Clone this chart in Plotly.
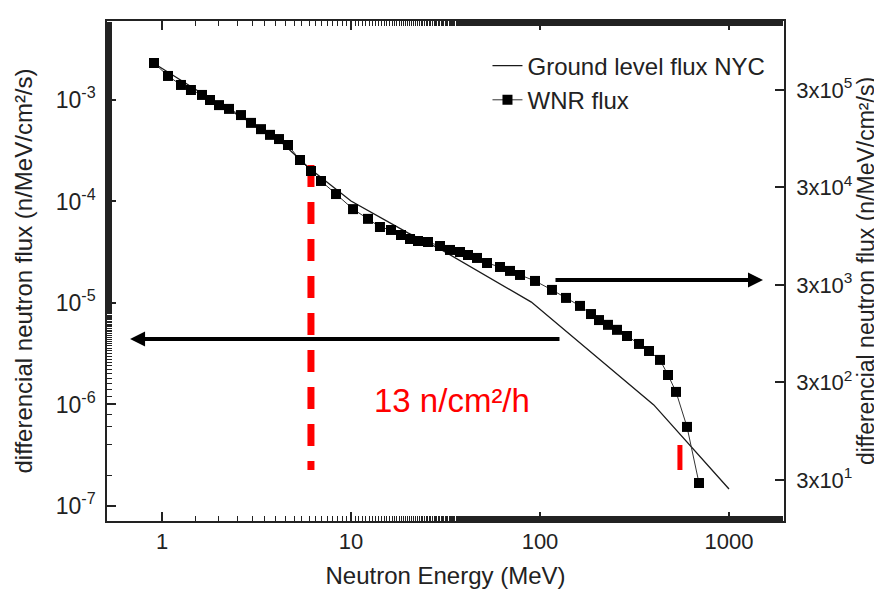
import plotly.graph_objects as go

# ---------------- data ----------------
nyc_energy_mev = [0.9, 2, 4, 6, 10, 20, 30, 90, 400, 1000]
nyc_flux = [2.31e-3, 9.14e-4, 4.31e-4, 2.14e-4, 1.01e-4, 4.90e-5, 3.35e-5, 1.02e-5, 9.9e-7, 1.47e-7]

wnr_energy_mev = [0.907, 1.076, 1.26, 1.423, 1.628, 1.795, 2.003, 2.262, 2.618, 2.958,
                  3.341, 3.728, 4.159, 4.642, 5.373, 6.143, 6.938, 8.33, 10.25, 12.3,
                  14.23, 16.28, 18.39, 20.52, 22.62, 25.55, 29.58, 33.41, 37.74, 41.59,
                  46.42, 52.44, 61.43, 69.38, 78.38, 94.08, 115.7, 137.3, 162.8, 186.1,
                  205.2, 228.9, 255.5, 288.6, 334.1, 377.4, 431.4, 475.6, 524.4, 599.5,
                  693.8]
wnr_flux = [5.68e5, 4.18e5, 3.38e5, 3.00e5, 2.67e5, 2.37e5, 2.10e5, 1.92e5, 1.66e5, 1.38e5,
            1.19e5, 1.04e5, 9.42e4, 8.18e4, 5.74e4, 4.43e4, 3.50e4, 2.57e4, 1.80e4, 1.43e4,
            1.18e4, 1.10e4, 9.77e3, 8.89e3, 8.48e3, 8.28e3, 7.53e3, 6.86e3, 6.54e3, 6.09e3,
            5.68e3, 5.04e3, 4.59e3, 4.18e3, 3.80e3, 3.30e3, 2.67e3, 2.21e3, 1.83e3, 1.51e3,
            1.31e3, 1.17e3, 1.04e3, 8.99e2, 7.45e2, 6.31e2, 5.11e2, 3.58e2, 2.40e2, 1.05e2,
            2.79e1]

# integration limits (red markers)
cut_low_energy = [6.14, 6.14]
cut_low_flux = [2.29e-4, 2.26e-7]
cut_high_energy = [550, 550]
cut_high_flux = [3.99e-7, 2.26e-7]

left_tick_vals = [1e-7, 1e-6, 1e-5, 1e-4, 1e-3]
left_tick_text = ["10<sup>-7</sup>", "10<sup>-6</sup>", "10<sup>-5</sup>", "10<sup>-4</sup>", "10<sup>-3</sup>"]
right_tick_vals = [3e1, 3e2, 3e3, 3e4, 3e5]
right_tick_text = ["3x10<sup>1</sup>", "3x10<sup>2</sup>", "3x10<sup>3</sup>", "3x10<sup>4</sup>", "3x10<sup>5</sup>"]
x_tick_vals = [1, 10, 100, 1000]
x_tick_text = ["1", "10", "100", "1000"]

right_minor_vals = [3 * 10 ** (n - 1) * k for n in range(0, 7) for k in range(2, 10)]

FONT = "Liberation Sans, Arial, sans-serif"
INK = "#222222"

fig = go.Figure()

fig.add_trace(go.Scatter(
    x=nyc_energy_mev, y=nyc_flux, mode="lines", name="Ground level flux NYC",
    line=dict(color="#1a1a1a", width=1.3), xaxis="x", yaxis="y"))

fig.add_trace(go.Scatter(
    x=wnr_energy_mev, y=wnr_flux, mode="lines+markers", name="WNR flux",
    line=dict(color="#333333", width=1),
    marker=dict(symbol="square", size=10, color="black"),
    xaxis="x", yaxis="y2"))

fig.add_trace(go.Scatter(
    x=cut_low_energy, y=cut_low_flux, mode="lines", showlegend=False,
    line=dict(color="#ff0000", width=7, dash="22px,15px"), xaxis="x", yaxis="y"))
fig.add_trace(go.Scatter(
    x=cut_high_energy, y=cut_high_flux, mode="lines", showlegend=False,
    line=dict(color="#ff0000", width=5), xaxis="x", yaxis="y"))

axis_common = dict(type="log", showgrid=False, zeroline=False, ticks="inside", automargin=False,
                   tickcolor=INK, linecolor=INK, linewidth=1.5)

fig.update_layout(
    width=882, height=591,
    margin=dict(l=99, r=106, t=13, b=78),
    paper_bgcolor="white", plot_bgcolor="white",
    font=dict(family=FONT, color=INK),
    showlegend=True,
    legend=dict(x=0.562, y=0.955, xanchor="left", yanchor="top",
                bgcolor="rgba(0,0,0,0)", font=dict(family=FONT, size=24, color=INK),
                tracegroupgap=0),
    xaxis=dict(**axis_common, range=[-0.291, 3.291], tickvals=x_tick_vals, ticktext=x_tick_text,
               ticklen=9, tickwidth=1.5, showline=True, mirror="ticks",
               tickfont=dict(family=FONT, size=22, color=INK),
               minor=dict(ticks="inside", ticklen=5, tickcolor=INK, tickwidth=1.2, showgrid=False),
               title=dict(text="Neutron Energy (MeV)", font=dict(family=FONT, size=24, color=INK), standoff=14)),
    yaxis=dict(**axis_common, range=[-7.148, -2.222], tickvals=left_tick_vals, ticktext=left_tick_text,
               ticklen=9, tickwidth=1.5, showline=True, ticklabelstandoff=5,
               tickfont=dict(family=FONT, size=23, color=INK),
               minor=dict(ticks="inside", ticklen=5, tickcolor=INK, tickwidth=1.2, showgrid=False),
               title=dict(text="differencial neutron flux (n/MeV/cm²/s)", font=dict(family=FONT, size=24, color=INK), standoff=16)),
    yaxis2=dict(**axis_common, range=[1.056, 6.185], tickvals=right_tick_vals, ticktext=right_tick_text,
                ticklen=9, tickwidth=1.5, showline=True, overlaying="y", side="right", anchor="x",
                ticklabelstandoff=6, tickfont=dict(family=FONT, size=22, color=INK),
                title=dict(text="differencial neutron flux (n/MeV/cm²/s)", font=dict(family=FONT, size=23, color=INK), standoff=0)),
    yaxis3=dict(type="log", range=[1.056, 6.185], overlaying="y", side="right", anchor="x", automargin=False,
                tickvals=right_minor_vals, ticks="inside", ticklen=5, tickwidth=1.2, tickcolor=INK,
                showticklabels=False, showgrid=False, zeroline=False, showline=False),
)

# arrows indicating which axis belongs to which curve
fig.add_annotation(x=-0.169, y=-5.355, ax=2.111, ay=-5.355, xref="x", yref="y", axref="x", ayref="y",
                   text="", showarrow=True, arrowhead=2, arrowsize=0.75, arrowwidth=4, arrowcolor="black",
                   standoff=0, startstandoff=0)
fig.add_annotation(x=3.180, y=-4.773, ax=2.074, ay=-4.773, xref="x", yref="y", axref="x", ayref="y",
                   text="", showarrow=True, arrowhead=2, arrowsize=0.75, arrowwidth=4, arrowcolor="black",
                   standoff=0, startstandoff=0)

fig.add_annotation(x=1.534, y=-5.965, xref="x", yref="y", text="13 n/cm²/h", showarrow=False,
                   font=dict(family=FONT, size=33, color="#ff0000"))

fig.write_html("out.html")
